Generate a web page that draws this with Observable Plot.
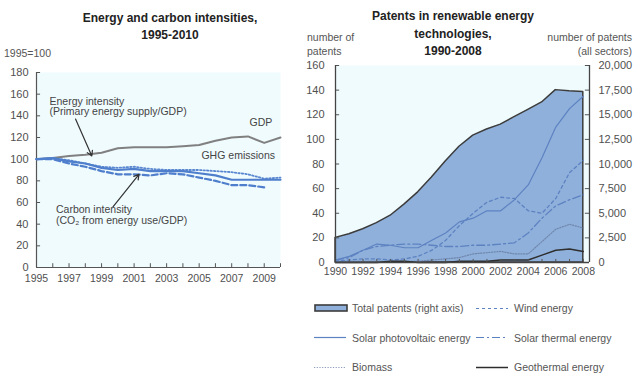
<!DOCTYPE html>
<html><head><meta charset="utf-8">
<script src="https://cdn.jsdelivr.net/npm/d3@7"></script>
<script src="https://cdn.jsdelivr.net/npm/@observablehq/plot@0.6"></script>
<style>
body{margin:0;background:#fff;font-family:"Liberation Sans",Arial,sans-serif;}
#root{position:relative;width:640px;height:383px;overflow:hidden;}
.abs{position:absolute;white-space:nowrap;color:#555;font-size:10.5px;line-height:14px;}
.title{position:absolute;font-weight:bold;font-size:12px;color:#222;text-align:center;line-height:17px;}
.leg{position:absolute;display:flex;align-items:center;font-size:10.5px;color:#555;white-space:nowrap;}
.leg svg{margin-right:4px;}
</style></head>
<body><div id="root"></div>
<script>
// ---- Left chart data: Energy and carbon intensities (1995=100) ----
const yearsL = [1995,1996,1997,1998,1999,2000,2001,2002,2003,2004,2005,2006,2007,2008,2009,2010];
const gdp       = [100,101,103,104,106,110,111,111,111,112,113,117,120,121,115,120];
const energyInt = [100,101,98,96,92,90,91,89,89,89,87,85,81,81,81,81];
const ghg       = [100,101,99,96,93,92,93,91,90,90,90,89,88,86,82,83];
const carbonInt = [100,100,96,93,89,86,86,85,87,86,83,80,76,76,74];
const yTicksL = [0,20,40,60,80,100,120,140,160,180];
const xLabelsL = [1995,1997,1999,2001,2003,2005,2007,2009];

// ---- Right chart data: Patents in renewable energy technologies ----
const yearsR = [1990,1991,1992,1993,1994,1995,1996,1997,1998,1999,2000,2001,2002,2003,2004,2005,2006,2007,2008];
const totalPatents = [2500,2875,3375,4000,4750,5875,7125,8625,10250,11750,12875,13500,14000,14750,15500,16250,17500,17375,17300];
const solarPV    = [2,5,10,15,14,12,12,18,24,33,36,42,42,51,63,85,110,125,135];
const wind       = [1,2,3,3,2,3,5,10,18,30,40,49,53,52,42,40,52,73,83];
const solarTherm = [2,4,10,13,14,15,15,14,13,13,14,14,15,16,24,36,46,51,55];
const biomass    = [1,1,1,1,1,1,1,2,3,4,7,8,9,7,7,17,27,31,28];
const geothermal = [0,0,0,0,1,1,0,0,0,1,1,1,2,2,2,6,10,11,9];
const yTicksR = [0,20,40,60,80,100,120,140,160];
const xLabelsR = [1990,1992,1994,1996,1998,2000,2002,2004,2006,2008];
const rightRatio = 125; // 20,000 / 160

const root = document.getElementById("root");
const font = '"Liberation Sans", Arial, sans-serif';
const bg = "#f0fbfe";
const axisCol = "#555";

function series(years, vals){ return vals.map((v,i)=>({year:years[i], value:v})); }

// ---------- LEFT ----------
const xDomL = [1995, 2010];
const left = Plot.plot({
  width:300, height:230, marginLeft:36, marginRight:20, marginTop:12, marginBottom:23,
  style:{fontFamily:font, fontSize:"11px", color:"#505050", background:"transparent"},
  x:{domain:xDomL}, y:{domain:[0,180]},
  marks:[
    Plot.frame({fill:bg, stroke:null}),
    Plot.axisY({ticks:yTicksL, tickSize:0, tickPadding:8, label:null, fontSize:11}),
    Plot.axisX({ticks:xLabelsL, tickSize:0, tickPadding:7, tickFormat:d=>String(d), label:null, fontSize:10.5}),
    Plot.ruleY(yTicksL, {x1:xDomL[0], x2:xDomL[0]+0.25, stroke:axisCol}),
    Plot.ruleX(yearsL, {y1:0, y2:3.5, stroke:axisCol}),
    Plot.ruleX([xDomL[0]], {y1:0, y2:180, stroke:axisCol, strokeWidth:1.2}),
    Plot.ruleY([0], {stroke:axisCol, strokeWidth:1.2}),
    Plot.line(series(yearsL,gdp), {x:"year", y:"value", stroke:"#808080", strokeWidth:2}),
    Plot.line(series(yearsL,ghg), {x:"year", y:"value", stroke:"#5a88d0", strokeWidth:1.8, strokeDasharray:"1.5,2"}),
    Plot.line(series(yearsL,energyInt), {x:"year", y:"value", stroke:"#4f7fcc", strokeWidth:2.2}),
    Plot.line(series(yearsL,carbonInt), {x:"year", y:"value", stroke:"#4f7fcc", strokeWidth:2.2, strokeDasharray:"6,3"}),
    Plot.text(["Energy intensity\n(Primary energy supply/GDP)"], {x:1995.8, y:157, text:d=>d, textAnchor:"start", lineAnchor:"top", lineHeight:1.0, fill:"#444", fontSize:10.5}),
    Plot.arrow([0], {x1:1997.4, y1:137, x2:1998.4, y2:103, stroke:"#333", strokeWidth:1.2, headLength:7}),
    Plot.text(["Carbon intensity\n(CO₂ from energy use/GDP)"], {x:1996.2, y:58, text:d=>d, textAnchor:"start", lineAnchor:"top", lineHeight:1.1, fill:"#444", fontSize:10.5}),
    Plot.arrow([0], {x1:1999.7, y1:56, x2:2001.3, y2:86, stroke:"#333", strokeWidth:1.2, headLength:7}),
    Plot.text(["GDP"], {x:2008.8, y:134, text:d=>d, fill:"#444", fontSize:10.5}),
    Plot.text(["GHG emissions"], {x:2007.4, y:103, text:d=>d, fill:"#444", fontSize:10.5})
  ]
});
left.style.position="absolute"; left.style.left="0px"; left.style.top="60px";
root.appendChild(left);

// ---------- RIGHT ----------
const xDomR = [1990, 2008.45];
const totalData = totalPatents.map((v,i)=>({year:yearsR[i], value:v/rightRatio}));
const right = Plot.plot({
  width:340, height:227, marginLeft:35, marginRight:51, marginTop:10, marginBottom:20,
  style:{fontFamily:font, fontSize:"11px", color:"#505050", background:"transparent"},
  x:{domain:xDomR}, y:{domain:[0,160]},
  marks:[
    Plot.frame({fill:bg, stroke:null}),
    Plot.areaY(totalData, {x:"year", y:"value", fill:"#8fb0da", stroke:"#3c3c3c", strokeWidth:1.5}),
    Plot.line(series(yearsR,biomass), {x:"year", y:"value", stroke:"#6f86ad", strokeWidth:1.2, strokeDasharray:"1.2,1.5"}),
    Plot.line(series(yearsR,solarTherm), {x:"year", y:"value", stroke:"#5d82c2", strokeWidth:1.3, strokeDasharray:"8,3,2,3"}),
    Plot.line(series(yearsR,wind), {x:"year", y:"value", stroke:"#5d82c2", strokeWidth:1.3, strokeDasharray:"3,3"}),
    Plot.line(series(yearsR,solarPV), {x:"year", y:"value", stroke:"#5d82c2", strokeWidth:1.2}),
    Plot.line(series(yearsR,geothermal), {x:"year", y:"value", stroke:"#2e2e2e", strokeWidth:1.5}),
    Plot.axisY({ticks:yTicksR, tickSize:0, tickPadding:11, label:null, fontSize:11}),
    Plot.axisY({anchor:"right", ticks:yTicksR, tickSize:0, tickPadding:9, label:null, fontSize:11,
      tickFormat:d=>d3.format(",")(d*rightRatio)}),
    Plot.axisX({ticks:xLabelsR, tickSize:0, tickPadding:5, tickFormat:d=>String(d), label:null, fontSize:10.5}),
    Plot.ruleY(yTicksR, {x1:xDomR[0], x2:xDomR[0]+0.3, stroke:axisCol}),
    Plot.ruleY(yTicksR, {x1:xDomR[1]-0.3, x2:xDomR[1], stroke:axisCol}),
    Plot.ruleX(yearsR, {y1:0, y2:2.5, stroke:axisCol}),
    Plot.ruleX([xDomR[0], xDomR[1]], {y1:0, y2:160, stroke:"#444", strokeWidth:1.3}),
    Plot.ruleY([0], {stroke:"#444", strokeWidth:1.3})
  ]
});
right.style.position="absolute"; right.style.left="300px"; right.style.top="55px";
root.appendChild(right);

// ---------- Titles & headers ----------
function addDiv(cls, html, css){ const d=document.createElement("div"); d.className=cls; d.innerHTML=html; Object.assign(d.style, css); root.appendChild(d); return d; }
addDiv("title", "Energy and carbon intensities,<br>1995-2010", {left:"70px", width:"200px", top:"10px"});
addDiv("title", "Patents in renewable energy<br>technologies,<br>1990-2008", {left:"353px", width:"200px", top:"8px", lineHeight:"17.5px"});
addDiv("abs", "1995=100", {left:"4px", top:"46px"});
addDiv("abs", "number of<br>patents", {left:"307px", top:"30px"});
addDiv("abs", "number of patents<br>(all sectors)", {right:"8px", top:"30px", textAlign:"right"});

// ---------- Legend ----------
const legendItems = [
  {label:"Total patents (right axis)", type:"area", col:0, row:0},
  {label:"Wind energy", dash:"3,3", stroke:"#5d82c2", col:1, row:0},
  {label:"Solar photovoltaic  energy", dash:null, stroke:"#5d82c2", col:0, row:1},
  {label:"Solar thermal energy", dash:"8,3,2,3", stroke:"#5d82c2", col:1, row:1},
  {label:"Biomass", dash:"1.2,1.5", stroke:"#8a9ab8", col:0, row:2},
  {label:"Geothermal energy", dash:null, stroke:"#2e2e2e", col:1, row:2, w:1.5}
];
legendItems.forEach(it=>{
  const x = it.col===0 ? 314 : 476;
  const y = 302 + it.row*29.5;
  let sw;
  if(it.type==="area"){
    sw = `<svg width="34" height="9"><rect x="1" y="1" width="32" height="6" fill="#8fb0da" stroke="#3c3c3c" stroke-width="1.6"/></svg>`;
  } else {
    const w = 34;
    sw = `<svg width="${w}" height="9"><line x1="0" x2="${w-2}" y1="4.5" y2="4.5" stroke="${it.stroke}" stroke-width="${it.w||1.2}" ${it.dash?`stroke-dasharray="${it.dash}"`:""}/></svg>`;
  }
  addDiv("leg", sw + `<span>${it.label}</span>`, {left:x+"px", top:y+"px"});
});
</script></body></html>
